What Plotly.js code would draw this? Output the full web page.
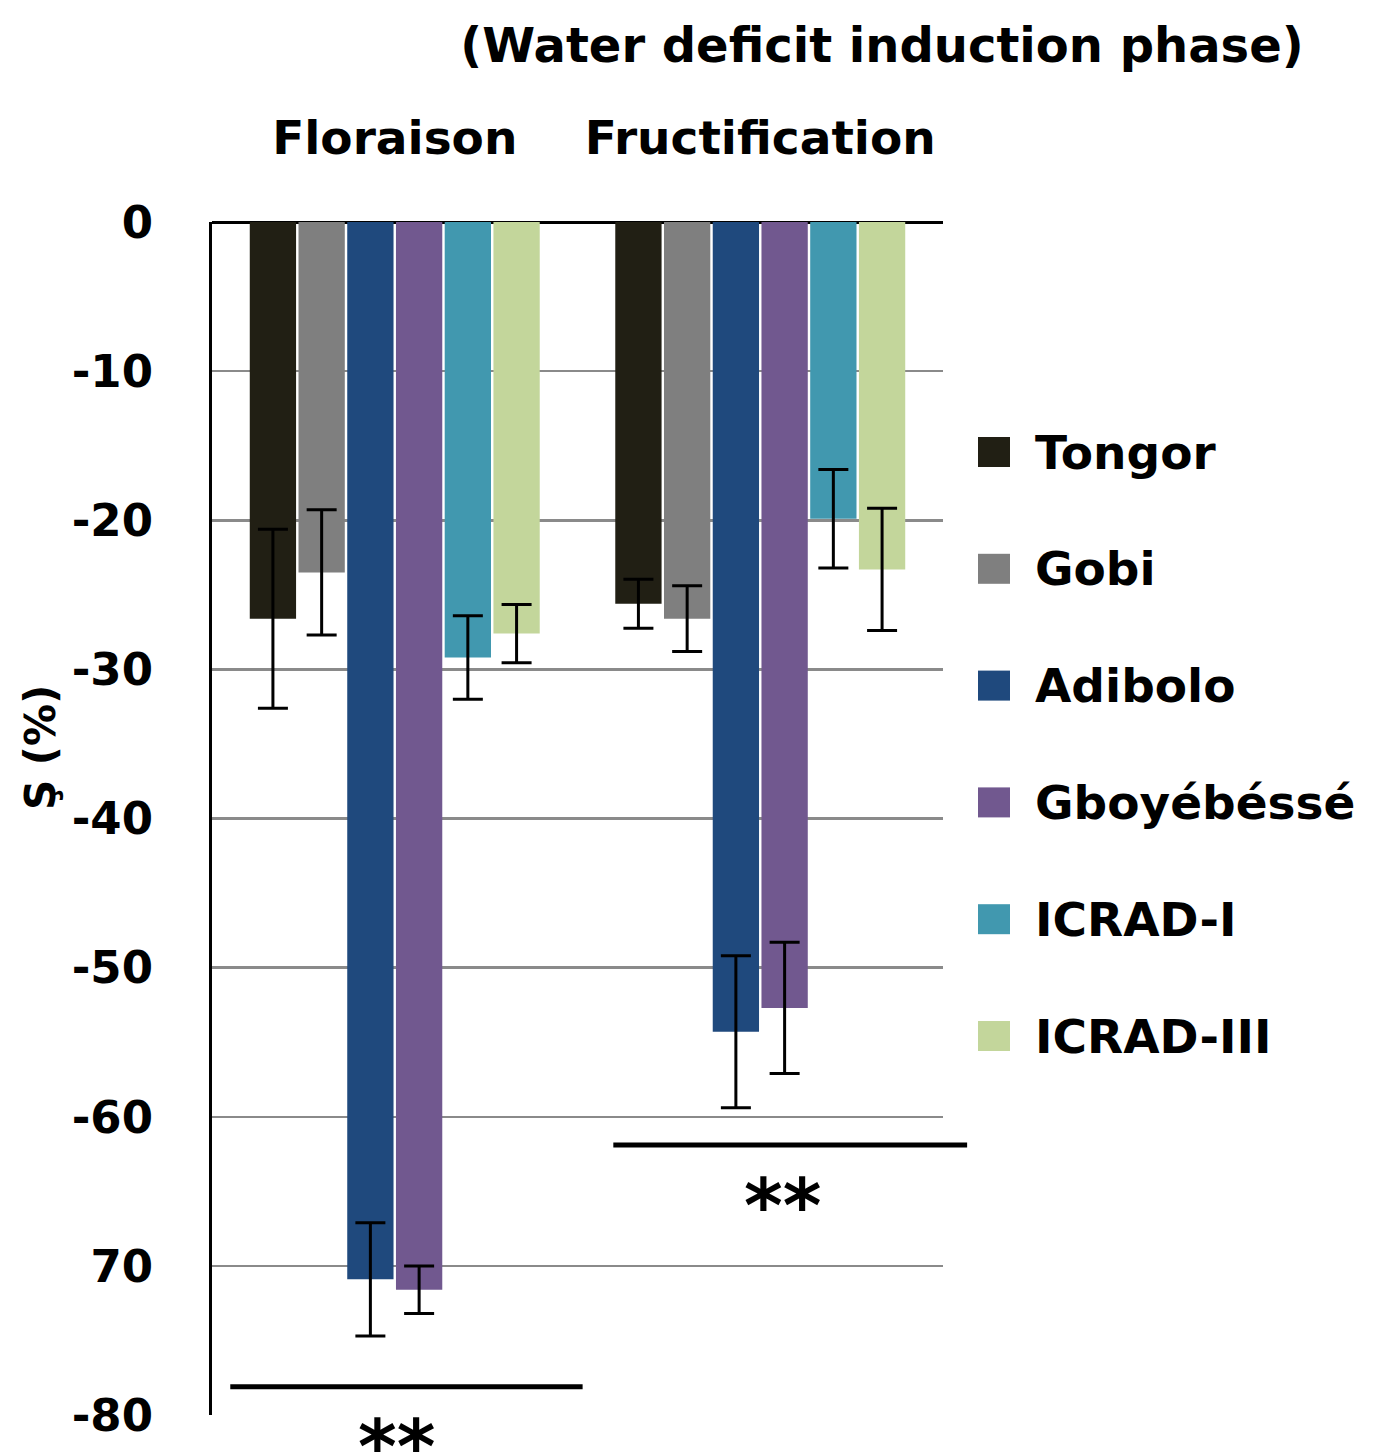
<!DOCTYPE html>
<html><head><meta charset="utf-8">
<script src="https://cdn.plot.ly/plotly-3.0.1.min.js"></script>
<style>body{margin:0;background:#fff}#chart{width:1381px;height:1455px}</style>
</head><body><div id="chart"></div>
<script>
const categories = ["Floraison", "Fructification"];
const seriesNames = ["Tongor", "Gobi", "Adibolo", "Gboyébéssé", "ICRAD-I", "ICRAD-III"];
const seriesColors = ["#211f14", "#7f7f7f", "#1f497d", "#71588f", "#4198af", "#c3d69b"];
const tongor = [-26.6, -25.6];
const gobi = [-23.5, -26.6];
const adibolo = [-70.9, -54.3];
const gboyebesse = [-71.6, -52.7];
const icrad1 = [-29.2, -19.9];
const icrad3 = [-27.6, -23.3];
const errTongor = [6.0, 1.65];
const errGobi = [4.2, 2.2];
const errAdibolo = [3.8, 5.1];
const errGboyebesse = [1.6, 4.4];
const errIcrad1 = [2.8, 3.3];
const errIcrad3 = [1.95, 4.1];
const yTickVals = [0, -10, -20, -30, -40, -50, -60, -70, -80];
const yTickText = ["0", "-10", "-20", "-30", "-40", "-50", "-60", "70", "-80"];
const sigLevel = [-78.1, -61.9];
const sigText = ["**", "**"];

const values = [tongor, gobi, adibolo, gboyebesse, icrad1, icrad3];
const errs = [errTongor, errGobi, errAdibolo, errGboyebesse, errIcrad1, errIcrad3];
const FONT = "'DejaVu Sans', sans-serif";

const traces = seriesNames.map((n, i) => ({
  type: "bar", name: n, x: categories, y: values[i],
  marker: {color: seriesColors[i], line: {width: 0}},
  error_y: {type: "data", array: errs[i], visible: true, color: "#000", thickness: 3, width: 15},
  showlegend: false
}));

const shapes = [];
const annotations = [];
// significance lines
shapes.push({type: "line", xref: "paper", yref: "y", x0: 0.025, x1: 0.507, y0: sigLevel[0], y1: sigLevel[0], line: {color: "#000", width: 5}});
shapes.push({type: "line", xref: "paper", yref: "y", x0: 0.549, x1: 1.033, y0: sigLevel[1], y1: sigLevel[1], line: {color: "#000", width: 5}});
annotations.push({xref: "paper", yref: "paper", x: 0.253, xanchor: "center", y: 0.011, yanchor: "top", text: "<b>" + sigText[0] + "</b>", showarrow: false, font: {family: FONT, size: 74, color: "#000"}});
annotations.push({xref: "paper", yref: "y", x: 0.781, xanchor: "center", y: -63.0, yanchor: "top", text: "<b>" + sigText[1] + "</b>", showarrow: false, font: {family: FONT, size: 74, color: "#000"}});

// legend
seriesNames.forEach((n, i) => {
  const yp = 452 + i * 116.8;
  shapes.push({type: "rect", xref: "paper", yref: "paper", x0: (978 - 212) / 731, x1: (1010 - 212) / 731,
    y0: (1415 - yp - 15) / 1193, y1: (1415 - yp + 15) / 1193,
    fillcolor: seriesColors[i], line: {width: 0}});
  annotations.push({xref: "paper", yref: "paper", x: (1033 - 212) / 731, xanchor: "left",
    y: (1415 - yp) / 1193, yanchor: "middle", text: "<b>" + n + "</b>", showarrow: false,
    font: {family: FONT, size: 47, color: "#000"}});
});
// y-axis title
annotations.push({xref: "paper", yref: "paper", x: (40 - 212) / 731, y: (1415 - 748) / 1193, xanchor: "center", yanchor: "middle",
  text: "<b>Ş (%)</b>", textangle: -90, showarrow: false, font: {family: FONT, size: 42, color: "#000"}});

const layout = {
  width: 1381, height: 1455,
  margin: {l: 212, r: 438, t: 222, b: 40},
  paper_bgcolor: "#fff", plot_bgcolor: "#fff",
  barmode: "group", bargap: 0.2, bargroupgap: 0.05,
  title: {text: "<b>(Water deficit induction phase)</b>", x: 882 / 1381, xanchor: "center", xref: "container",
    y: 1 - 45 / 1455, yanchor: "middle", yref: "container", font: {family: FONT, size: 48, color: "#000"}},
  xaxis: {side: "top", type: "category", showgrid: false, showline: false, ticks: "", ticklabelstandoff: 58,
    tickfont: {family: FONT, size: 47, color: "#000", weight: "bold"}},
  yaxis: {range: [-80, 0], tickvals: yTickVals, ticktext: yTickText, showgrid: true, gridcolor: "#8a8a8a", gridwidth: 2.5,
    zeroline: true, zerolinecolor: "#000", zerolinewidth: 3, showline: true, linecolor: "#000", linewidth: 3,
    ticks: "", ticklabelstandoff: 47, tickfont: {family: FONT, size: 45, color: "#000", weight: "bold"}},
  shapes: shapes, annotations: annotations, showlegend: false
};
Plotly.newPlot("chart", traces, layout, {displayModeBar: false, staticPlot: true});
</script></body></html>
